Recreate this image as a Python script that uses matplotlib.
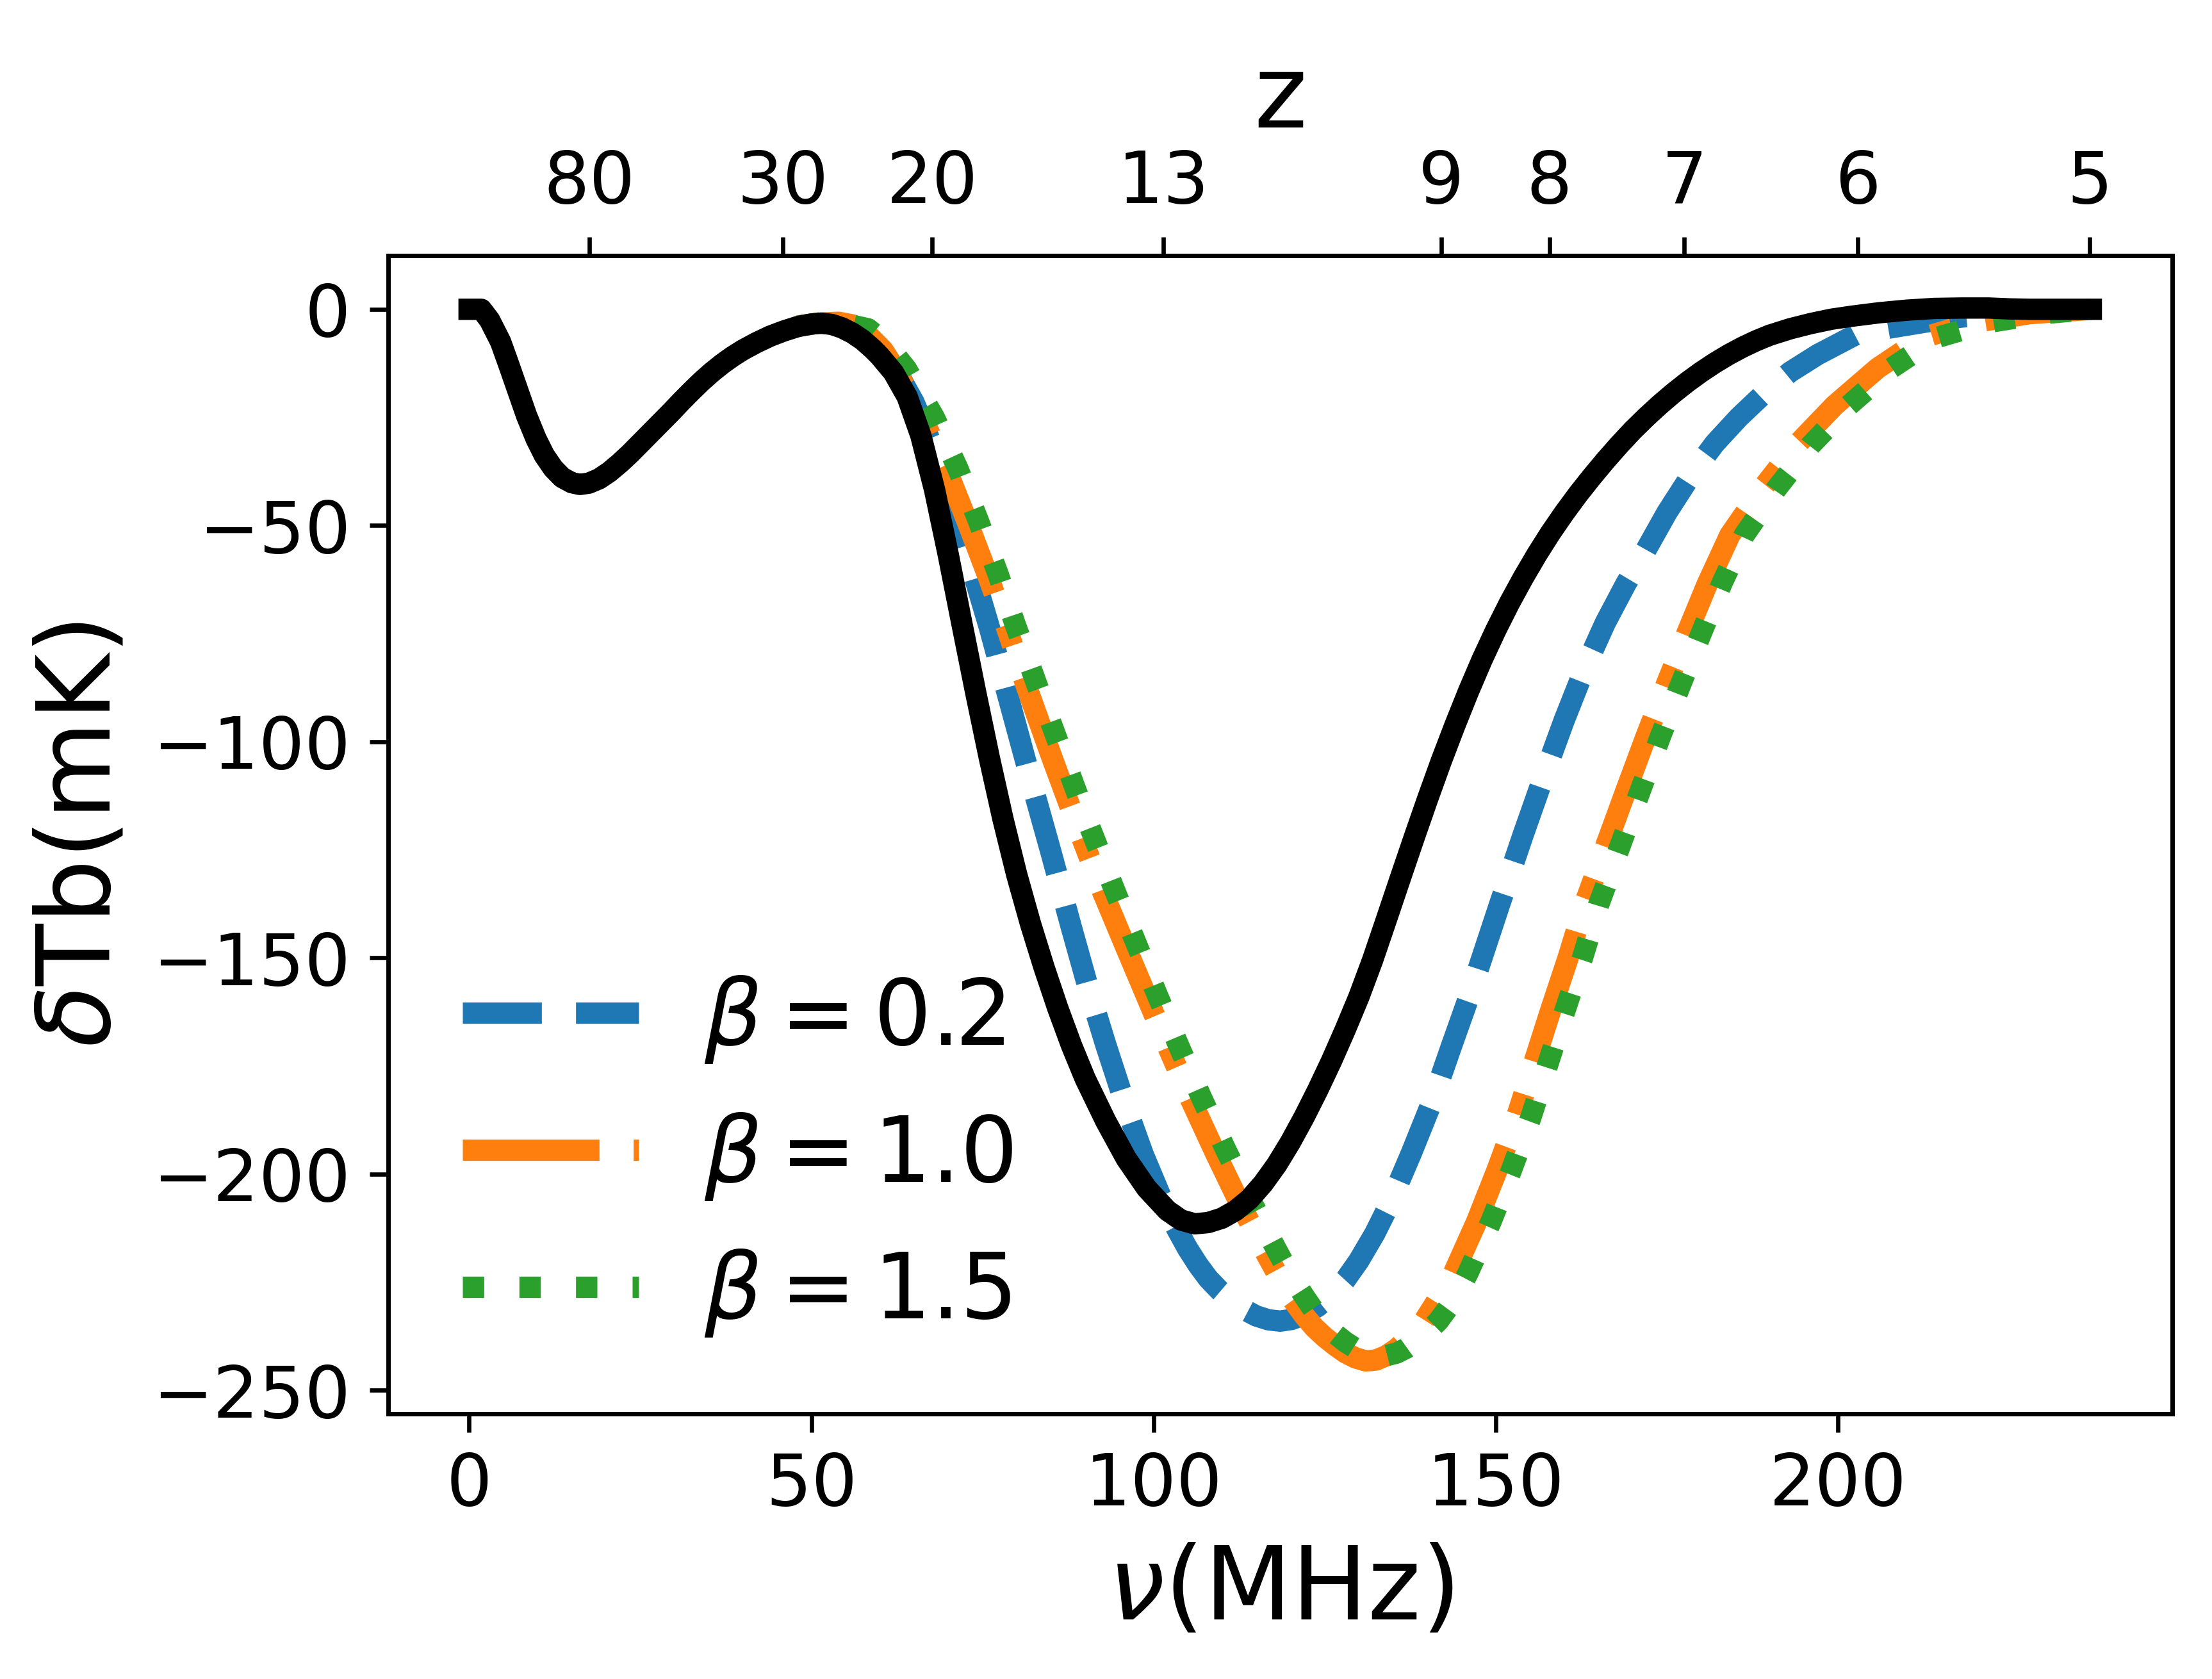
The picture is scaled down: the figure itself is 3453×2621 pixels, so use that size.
import numpy as np
import matplotlib.pyplot as plt

# reference curve (black)
nu_ref = [0, 1.8, 3, 4.6, 5.8, 7.1, 8.4, 9.8, 11, 12.3, 13.6, 15, 16.2, 17.5, 19, 20.5, 22, 23.5,
          25, 26.5, 28, 29.5, 31, 32.5, 34, 35.5, 37, 38.5, 40, 42, 44, 46, 48, 50, 51.5, 53,
          54.5, 56, 57.5, 59, 60, 62, 64, 66, 68, 70, 72, 74, 76, 78, 80, 82, 84, 86, 88, 90, 93,
          96, 99, 102, 104, 106, 108, 110, 112, 114, 116, 118, 120, 122, 124, 126, 128, 130, 132,
          134, 136, 138, 140, 142, 144, 146, 148, 150, 152, 154, 156, 158, 160, 162, 164, 166,
          168, 170, 172, 174, 176, 178, 180, 182, 184, 186, 188, 190, 193, 196, 199, 202, 206,
          210, 214, 218, 222, 225, 228, 237]
tb_ref = [0, 0, -2.5, -7.5, -12.8, -18.7, -24.6, -30, -33.8, -36.8, -38.9, -40.1, -40.5, -40.2,
          -39.2, -37.6, -35.6, -33.4, -31, -28.6, -26.2, -23.8, -21.3, -18.9, -16.6, -14.5, -12.6,
          -10.9, -9.4, -7.7, -6.2, -5, -4, -3.4, -3.2, -3.5, -4.3, -5.5, -7.1, -9.2, -10.8, -14.6,
          -20.2, -29.2, -41.7, -56.7, -72.7, -88.5, -103.7, -117.9, -130.7, -142, -152.2, -161.6,
          -170.2, -177.9, -187.7, -196.4, -203.3, -208.4, -210.6, -211.5, -211.2, -210.2, -208.4,
          -205.8, -202.2, -197.8, -192.6, -186.8, -180.5, -173.8, -166.6, -159, -150.5, -141.2,
          -131.8, -122.5, -113.4, -104.6, -96.3, -88.4, -81, -74.2, -67.9, -62.1, -56.7, -51.7,
          -47.1, -42.8, -38.8, -35, -31.4, -28, -24.9, -22, -19.3, -16.8, -14.5, -12.4, -10.5,
          -8.8, -7.3, -6, -4.5, -3.3, -2.3, -1.6, -0.8, -0.2, 0.2, 0.3, 0.3, 0.1, 0, 0]

# beta = 0.2
nu_b02 = [48, 51, 54, 56.5, 59, 62.2, 65, 67.8, 70.5, 73, 76, 79, 82, 85, 88, 90.3, 93, 95.8, 98.5,
          101.6, 103.5, 105, 106.5, 108, 109.7, 111.4, 113.2, 115, 116.8, 118.5, 120.2, 122, 124,
          125.8, 128, 130, 132.3, 134.6, 137.7, 140.8, 143.5, 146.3, 150.6, 154, 157, 160, 163,
          166, 169, 171.6, 175, 178.5, 182, 185.5, 189.3, 193, 197, 202.9, 208, 213, 218, 225, 231,
          237]
tb_b02 = [-3.9, -3.2, -3.5, -5.3, -8.3, -13.5, -21.5, -32, -44.5, -57.5, -73.5, -91, -108.5, -125.5,
          -143, -156, -170, -183.6, -195.5, -207.2, -213, -217.3, -221, -224.2, -227, -229.3, -231.3,
          -232.8, -233.7, -234, -233.6, -232.5, -230.6, -228.3, -224.5, -220, -213.8, -206.5, -195,
          -182.8, -170.5, -158, -137.4, -121.5, -108, -95, -83, -72.5, -63.5, -56.6, -47, -38.4, -31,
          -25, -19.3, -14.5, -10.5, -5.6, -4.2, -2.9, -1.8, -0.8, -0.3, 0]

# beta = 1.0
nu_b10 = [48, 51, 54, 56, 58, 60.5, 62.5, 66.5, 70, 73, 76, 78.5, 81.5, 85, 88.5, 92.5, 95.8, 99,
          102.2, 105.5, 109, 112.5, 116.3, 118.3, 120.3, 122, 123.5, 125, 126.5, 128, 129.5, 131,
          132.5, 134, 135.5, 137.5, 139.5, 141.5, 143.8, 147.2, 150.2, 153, 155.5, 158, 160.6,
          162.9, 165.9, 168.9, 171.9, 174.9, 177.9, 180.9, 184.2, 188.7, 193.8, 199.5, 205.8,
          212.5, 220, 228, 237]
tb_b10 = [-3.9, -3.2, -3.0, -3.6, -5.5, -9.5, -14.5, -26, -38, -50, -62.5, -73.5, -87.5, -103, -118,
          -134.5, -147, -159, -171, -183, -195, -206.5, -218, -223.8, -229, -232.7, -235.5, -237.7,
          -239.6, -241.3, -242.5, -243.2, -243, -242, -240.4, -237.5, -234, -229, -223, -211, -199,
          -187, -174.6, -162.2, -149.8, -137.8, -124.8, -111.8, -99, -86.8, -75, -63.5, -52.2,
          -41.9, -31.6, -22.2, -13.6, -6.5, -3.0, -1.0, 0]

# beta = 1.5
nu_b15 = [48, 51, 54, 56, 58.3, 61, 63.9, 68, 71.4, 74.4, 77.3, 79.7, 83, 86.5, 90, 94.1, 97.4,
          100.5, 103.7, 107, 110.5, 114, 117.8, 119.8, 121.9, 123.5, 125, 126.5, 128, 129.5, 131,
          132.5, 134, 135.5, 137, 138.5, 140, 141.6, 143.7, 145.9, 149.3, 152.3, 155.1, 157.6,
          160.1, 162.7, 165, 168, 171, 174, 177, 180, 183, 186.3, 190.8, 195.9, 201.6, 207.8,
          214.5, 222.1, 230, 237]
tb_b15 = [-3.9, -3.2, -3.2, -3.7, -4.5, -8, -13.8, -25.1, -36.8, -48.9, -61.3, -72.5, -87, -102,
          -117, -133.5, -146.4, -158.4, -170.4, -182.3, -194.2, -205.5, -217, -222.8, -228, -231.7,
          -234.6, -236.9, -238.8, -240.3, -241.4, -242, -242, -241.4, -240.2, -238.5, -236.5, -234,
          -229.5, -223, -211, -199, -187, -174.6, -162.2, -149.8, -137.8, -124.8, -111.8, -99,
          -86.8, -75, -63.5, -52.2, -41.9, -31.6, -22.2, -13.6, -6.5, -3.0, -1.0, 0]

z_ticks = [80, 30, 20, 13, 9, 8, 7, 6, 5]
nu21 = 1420.4

fig = plt.figure(figsize=(3453 / 600, 2621 / 600), dpi=600)
ax = fig.add_axes([0.1754, 0.1581, 0.8067, 0.6898])

ax.plot(nu_b02, tb_b02, '--', color='C0', lw=4, label=r'$\beta=0.2$')
ax.plot(nu_b10, tb_b10, '-.', color='C1', lw=4, label=r'$\beta=1.0$')
ax.plot(nu_b15, tb_b15, ':', color='C2', lw=4, label=r'$\beta=1.5$')
ax.plot(nu_ref, tb_ref, '-', color='k', lw=4)

ax.set_xlabel(r'$\nu$(MHz)', fontsize=19)
ax.set_ylabel(r'$\delta$Tb(mK)', fontsize=19)
ax.tick_params(labelsize=13.5)
ax.set_yticks([0, -50, -100, -150, -200, -250])
ax.legend(loc='lower left', frameon=False, fontsize=17, handlelength=1.94,
          handletextpad=0.72, borderaxespad=0.42)

# top axis in redshift
ax2 = ax.twiny()
ax2.set_xlim(ax.get_xlim())
ax2.set_xticks([nu21 / (1 + z) for z in z_ticks])
ax2.set_xticklabels([str(z) for z in z_ticks])
ax2.tick_params(labelsize=13.5)
ax2.set_xlabel('z', fontsize=19)

plt.savefig('out.png', dpi=600)
